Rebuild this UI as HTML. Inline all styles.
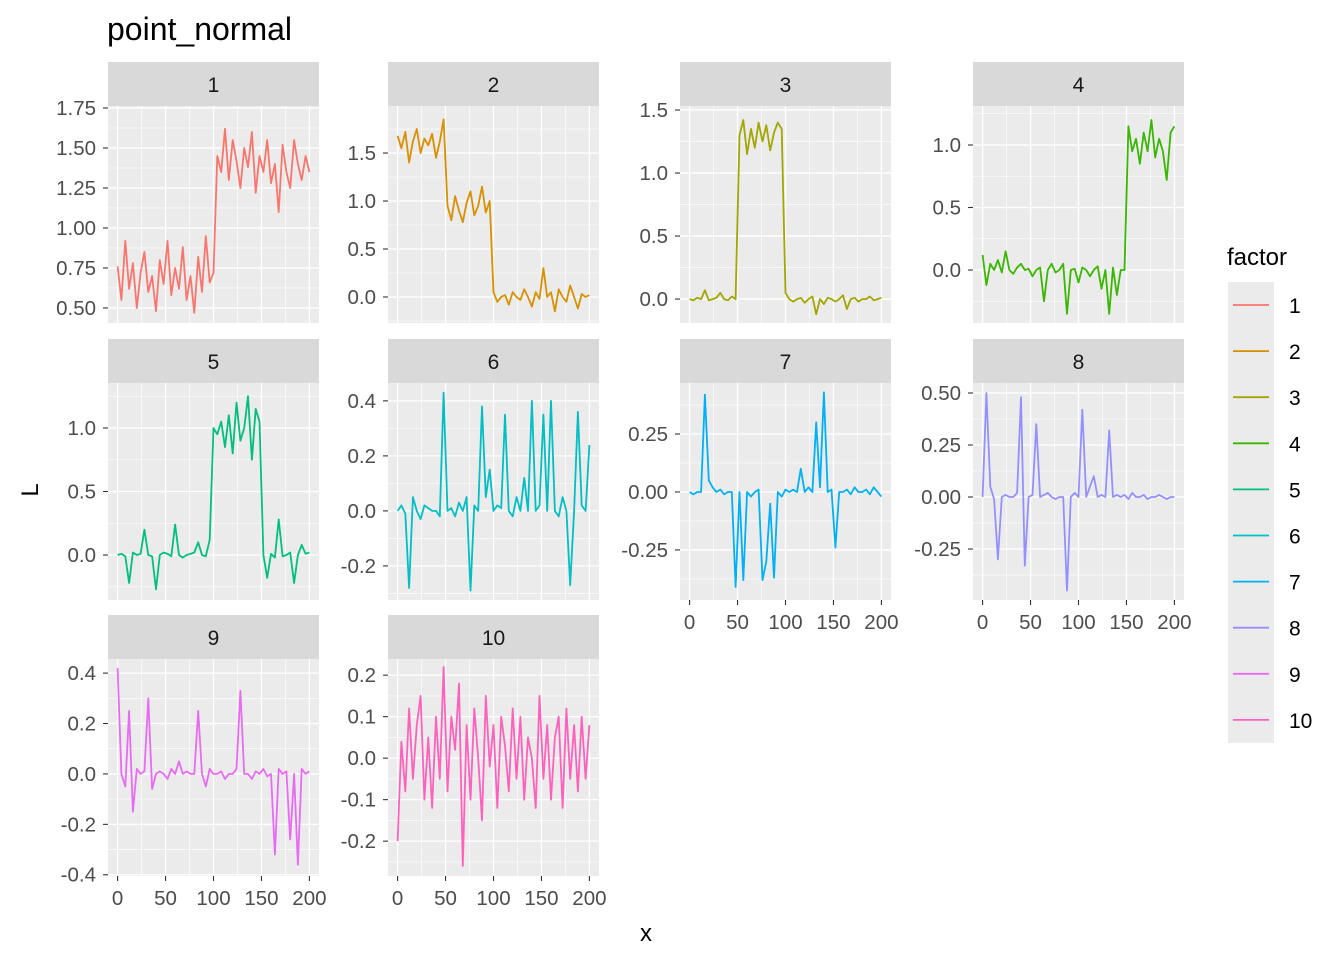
<!DOCTYPE html>
<html><head><meta charset="utf-8"><style>
body{margin:0;background:#fff;font-family:"Liberation Sans",Arial,sans-serif}
svg text{font-family:"Liberation Sans",Arial,sans-serif}
</style></head><body>
<svg id="c" width="1344" height="960" xmlns="http://www.w3.org/2000/svg">
<text x="107" y="40" font-size="32" fill="#000">point_normal</text>
<text x="646" y="941" font-size="24" text-anchor="middle" fill="#000">x</text>
<text transform="translate(38,490) rotate(-90)" font-size="24" text-anchor="middle" fill="#000">L</text>
</svg>
<script>
const colors=["#F8766D","#D89000","#A3A500","#39B600","#00BF7D","#00BFC4","#00B0F6","#9590FF","#E76BF3","#FF62BC"];
const factorLabels=["1","2","3","4","5","6","7","8","9","10"];
const xTicks=[0,50,100,150,200];
const s1=[0.76,0.55,0.92,0.62,0.78,0.50,0.72,0.85,0.60,0.70,0.48,0.80,0.65,0.92,0.58,0.75,0.62,0.88,0.55,0.70,0.47,0.82,0.60,0.95,0.66,0.72,1.45,1.35,1.62,1.30,1.55,1.42,1.25,1.50,1.38,1.60,1.22,1.45,1.35,1.55,1.28,1.40,1.10,1.52,1.35,1.25,1.55,1.40,1.30,1.45,1.35];
const s2=[1.68,1.55,1.72,1.40,1.62,1.75,1.50,1.65,1.58,1.70,1.45,1.62,1.85,0.95,0.80,1.05,0.90,0.78,0.98,1.10,0.85,0.95,1.15,0.88,1.00,0.05,-0.05,0.0,0.02,-0.08,0.05,0.0,-0.03,0.08,0.0,-0.1,0.05,-0.02,0.30,0.0,0.05,-0.15,0.08,0.0,-0.05,0.12,0.0,-0.12,0.03,0.0,0.02];
const s3=[0,-0.01,0.01,0,0.07,-0.01,0,0.01,0.05,0,-0.01,0.02,0,1.30,1.42,1.15,1.35,1.20,1.40,1.25,1.38,1.18,1.32,1.40,1.35,0.05,0.0,-0.02,0.0,0.01,-0.03,0.0,0.02,-0.12,0.0,-0.04,0.01,0.0,-0.02,0.0,0.03,-0.08,0.0,0.01,-0.02,0.0,0.0,0.02,-0.01,0.0,0.01];
const s4=[0.12,-0.12,0.05,0.0,0.08,-0.02,0.15,0.0,-0.03,0.02,0.05,0.0,0.01,-0.05,0.0,0.02,-0.25,0.0,0.05,-0.02,0.0,0.05,-0.35,0.0,0.01,-0.1,0.02,0.0,-0.05,0.0,0.03,-0.15,0.0,-0.35,0.02,-0.2,0.0,0.0,1.15,0.95,1.05,0.85,1.10,0.95,1.20,0.90,1.05,0.95,0.72,1.10,1.15];
const s5=[0,0.01,-0.01,-0.22,0.02,0,0.01,0.2,0,-0.01,-0.27,0,0.02,0.01,-0.01,0.24,0,-0.02,0,0.01,0.02,0.1,0,-0.01,0.12,1.0,0.95,1.05,0.85,1.1,0.8,1.2,0.9,1.0,1.25,0.75,1.15,1.05,0,-0.18,0.01,-0.02,0.28,-0.01,0,0.02,-0.22,0,0.08,0.01,0.02];
const s6=[0.0,0.02,-0.01,-0.28,0.05,0.0,-0.03,0.02,0.01,0.0,0.0,-0.02,0.43,0.0,0.01,-0.02,0.03,0.0,0.05,-0.29,0.02,0.0,0.38,0.05,0.15,0.0,0.02,0.01,0.35,0.0,-0.02,0.05,0.0,0.12,0.0,0.40,0.0,0.02,0.35,0.0,0.40,0.0,-0.02,0.05,0.0,-0.27,0.0,0.36,0.02,0.0,0.24];
const s7=[0.0,-0.01,0.0,0.0,0.42,0.05,0.02,0.0,0.01,-0.01,0.0,0.0,-0.41,0.0,-0.38,0.0,-0.02,0.0,0.01,-0.38,-0.3,-0.05,-0.37,0.0,-0.02,0.01,0.0,0.01,0.0,0.1,0.0,0.02,0.0,0.30,0.02,0.43,0.0,0.01,-0.24,0.0,0.0,0.01,-0.01,0.02,0.0,0.0,0.01,-0.01,0.02,0.0,-0.02];
const s8=[0.0,0.50,0.05,-0.01,-0.30,0.0,0.01,0.0,0.0,0.02,0.48,-0.33,0.0,0.01,0.35,0.0,0.01,0.02,0.0,-0.01,0.0,0.0,-0.45,0.0,0.02,0.0,0.42,0.0,0.05,0.10,0.0,0.01,0.0,0.32,0.0,0.01,0.0,0.01,-0.01,0.02,0.0,0.0,0.01,-0.01,0.0,0.0,0.01,0.0,-0.01,0.0,0.0];
const s9=[0.42,0.0,-0.05,0.25,-0.15,0.02,0.0,0.01,0.30,-0.06,0.0,0.01,0.0,-0.02,0.02,0.0,0.05,0.0,0.01,0.0,0.0,0.25,0.0,-0.05,0.02,0.0,0.0,0.01,-0.02,0.0,0.0,0.02,0.33,0.0,0.0,-0.02,0.01,0.0,0.02,-0.01,0.0,-0.32,0.02,0.0,0.01,-0.26,0.0,-0.36,0.02,0.0,0.01];
const s10=[-0.20,0.04,-0.08,0.12,-0.05,0.08,0.15,-0.1,0.05,-0.12,0.1,-0.05,0.22,-0.08,0.1,0.02,0.18,-0.26,0.08,-0.1,0.12,0.0,-0.15,0.15,-0.02,0.08,-0.12,0.1,0.03,-0.08,0.12,-0.05,0.1,-0.1,0.05,0.0,-0.12,0.15,-0.05,0.08,-0.1,0.05,0.1,-0.12,0.12,-0.05,0.08,-0.08,0.1,-0.05,0.08];
const series=[s1,s2,s3,s4,s5,s6,s7,s8,s9,s10];
const yTicks=[[0.5,0.75,1,1.25,1.5,1.75],[0,0.5,1,1.5],[0,0.5,1,1.5],[0,0.5,1],[0,0.5,1],[-0.2,0,0.2,0.4],[-0.25,0,0.25],[-0.25,0,0.25,0.5],[-0.4,-0.2,0,0.2,0.4],[-0.2,-0.1,0,0.1,0.2]];
const yDigits=[2,1,1,1,1,1,2,2,1,1];
const yDomains=[[0.406,1.7625],[-0.271,1.99],[-0.19,1.532],[-0.424,1.312],[-0.354,1.354],[-0.324,0.465],[-0.466,0.47],[-0.495,0.548],[-0.405,0.456],[-0.284,0.239]];
const xDomain=[-10,210];
const colL=[108,388,680,973], rowT=[106,383,659], PW=211, PH=217;
const svg=document.getElementById('c');
const NS="http://www.w3.org/2000/svg";
function mk(tag,attrs,parent){const e=document.createElementNS(NS,tag);for(const k in attrs)e.setAttribute(k,attrs[k]);(parent||svg).appendChild(e);return e;}
for(let p=0;p<10;p++){
  const col=p%4,row=Math.floor(p/4);
  const L=colL[col],T=rowT[row];
  const g=mk('g',{});
  
  
  const xs=v=>L+(v-xDomain[0])/(xDomain[1]-xDomain[0])*PW;
  const [lo,hi]=yDomains[p];
  const ys=v=>T+PH-(v-lo)/(hi-lo)*PH;
  mk('rect',{x:L,y:T,width:PW,height:PH,fill:'#ebebeb'},g);
  const strip=mk('rect',{x:L,y:T-44,width:PW,height:44,fill:'#d9d9d9'},g);
  
  
  const st=mk('text',{x:L+PW/2,y:T-14,'font-size':21,'text-anchor':'middle',fill:'#1a1a1a'},g);st.textContent=factorLabels[p];
  const yt=yTicks[p],step=yt[1]-yt[0];
  for(let v=yt[0]-step/2;v<=hi+1e-9;v+=step){if(v>=lo)mk('line',{x1:L,x2:L+PW,y1:ys(v),y2:ys(v),stroke:'#fff','stroke-width':0.6},g);}
  for(let v=-25;v<=225;v+=50){if(v>=xDomain[0]&&v<=xDomain[1])mk('line',{x1:xs(v),x2:xs(v),y1:T,y2:T+PH,stroke:'#fff','stroke-width':0.6},g);}
  yt.forEach(v=>{
    mk('line',{x1:L,x2:L+PW,y1:ys(v),y2:ys(v),stroke:'#fff','stroke-width':1.3},g);
    mk('line',{x1:L-5,x2:L,y1:ys(v),y2:ys(v),stroke:'#333','stroke-width':1.1},g);
    const t=mk('text',{x:L-12,y:ys(v)+7,'font-size':20.5,'text-anchor':'end',fill:'#4d4d4d'},g);
    t.textContent=v.toFixed(yDigits[p]);
  });
  xTicks.forEach(v=>mk('line',{x1:xs(v),x2:xs(v),y1:T,y2:T+PH,stroke:'#fff','stroke-width':1.3},g));
  const d=series[p];
  const pts=d.map((v,i)=>xs(i*200/(d.length-1)).toFixed(1)+','+ys(v).toFixed(1)).join(' ');
  const line=mk('polyline',{points:pts,fill:'none',stroke:colors[p],'stroke-width':1.8,'stroke-linejoin':'round'},g);
  
  
  const bottom=(row===2)||(row===1&&col>=2);
  if(bottom){
    xTicks.forEach(v=>{
      mk('line',{x1:xs(v),x2:xs(v),y1:T+PH,y2:T+PH+5,stroke:'#333','stroke-width':1.1},g);
      const t=mk('text',{x:xs(v),y:T+PH+29,'font-size':20.5,'text-anchor':'middle',fill:'#4d4d4d'},g);
      t.textContent=String(v);
    });
  }
}
const lg=mk('g',{});


const lt=mk('text',{x:1227,y:265,'font-size':24,fill:'#000'},lg);lt.textContent='factor';
mk('rect',{x:1228,y:282,width:46,height:461,fill:'#ebebeb'},lg);
for(let i=0;i<10;i++){
  const y=305+i*46.1;
  const e=mk('g',{},lg);
  
  
  mk('line',{x1:1233,x2:1269,y1:y,y2:y,stroke:colors[i],'stroke-width':1.8},e);
  const t=mk('text',{x:1289,y:y+8,'font-size':21,fill:'#000'},e);t.textContent=factorLabels[i];
}
</script>
</body></html>
